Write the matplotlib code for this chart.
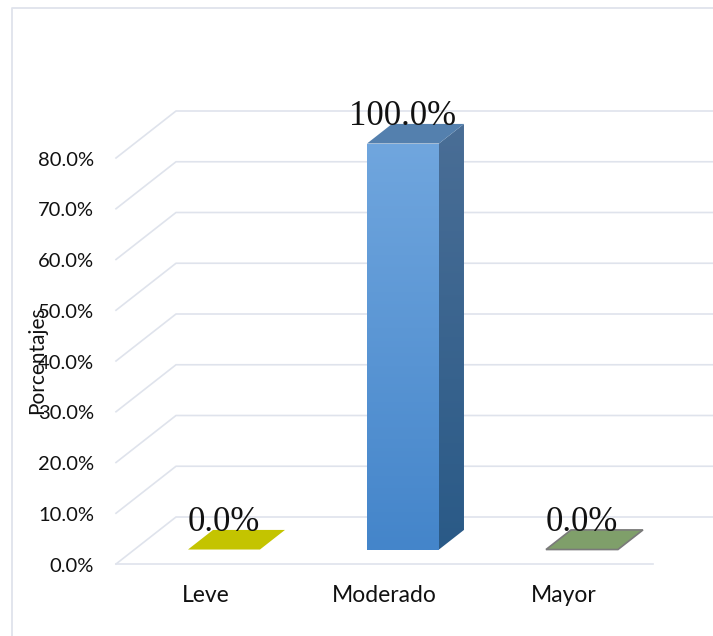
import matplotlib
matplotlib.use('Agg')
import numpy as np
import matplotlib.pyplot as plt
from matplotlib.colors import LinearSegmentedColormap
from matplotlib.patches import Polygon

categorias = ['Leve', 'Moderado', 'Mayor']
porcentajes = [0.0, 100.0, 0.0]
marcas_y = [0, 10, 20, 30, 40, 50, 60, 70, 80]
eje_max = 80

colores_frente = [('#70A6DE', '#4485CA'), ('#70A6DE', '#4485CA'), ('#7F9F6A', '#7F9F6A')]
colores_lado = [('#4A6E96', '#2A5A87'), ('#4A6E96', '#2A5A87'), ('#7F9F6A', '#7F9F6A')]
colores_tapa = ['#C4C400', '#5480AE', '#7F9F6A']
bordes_tapa = ['none', 'none', '#7A7A7A']

W, H = 713, 636
GRID = '#DFE3EC'
TEXTO = '#111111'

fig = plt.figure(figsize=(W / 100, H / 100), dpi=100, facecolor='white')

# marco exterior: solo se ven el lado izquierdo y el superior
fig.add_artist(plt.Line2D([11.5 / W, 11.5 / W, 1], [0, 1 - 8 / H, 1 - 8 / H], color=GRID, lw=1.3,
                          transform=fig.transFigure))

# ejes: el plano frontal va de x=116 a 653 y de y=564 a 158 (pixeles)
ax = fig.add_axes([116 / W, 1 - 564 / H, 537 / W, 406 / H])
ax.set_xlim(-0.5, 2.5)
ax.set_ylim(0, eje_max)
ax.axis('off')

# profundidad de la perspectiva en unidades de datos
prof_x = 60 / 179
prof_y = 47 / (406 / eje_max)
ancho = 0.402
z_ini, z_fin = 0.308, 0.725


def proy(x, y, z):
    return x + prof_x * z, y + prof_y * z


def gradiente(poly, arriba, abajo, x0, x1, y0, y1):
    cmap = LinearSegmentedColormap.from_list('g', [arriba, abajo])
    img = ax.imshow(np.linspace(0, 1, 256).reshape(-1, 1), cmap=cmap, aspect='auto',
                    extent=(x0, x1, y0, y1), zorder=3)
    # la barra sobresale del plano frontal, no se recorta con los ejes
    img.set_clip_box(fig.bbox)
    img.set_clip_path(poly)


# rejilla: pared del fondo y lineas diagonales sobre la pared lateral
for v in marcas_y:
    x0, y0 = proy(-0.5, v, 0)
    x1, y1 = proy(-0.5, v, 1)
    x2, y2 = proy(2.5, v, 1)
    ax.plot([x0, x1, x2], [y0, y1, y2], color=GRID, lw=1.2, clip_on=False, zorder=1)
ax.plot([-0.5, 2.5], [0, 0], color=GRID, lw=1.2, clip_on=False, zorder=1)

for i, v in enumerate(porcentajes):
    alto = min(v, eje_max)
    izq, der = i - ancho / 2, i + ancho / 2

    a = proy(izq, 0, z_ini)
    b = proy(der, 0, z_ini)
    c = proy(der, alto, z_ini)
    d = proy(izq, alto, z_ini)
    e = proy(der, 0, z_fin)
    f = proy(der, alto, z_fin)
    g = proy(izq, alto, z_fin)

    if alto > 0:
        frente = Polygon([a, b, c, d], closed=True, fc='none', ec='none', transform=ax.transData)
        lado = Polygon([b, e, f, c], closed=True, fc='none', ec='none', transform=ax.transData)
        gradiente(frente, *colores_frente[i], a[0], b[0], a[1], d[1])
        gradiente(lado, *colores_lado[i], b[0], e[0], b[1], f[1])

    ax.add_patch(Polygon([d, c, f, g], closed=True, fc=colores_tapa[i], ec=bordes_tapa[i],
                         lw=1.2, zorder=4, clip_on=False))

    # etiqueta de valor sobre la barra
    xt = proy(i, alto, z_ini)[0]
    yt = proy(i, alto, z_fin)[1]
    ax.annotate(f'{v:.1f}%', (xt, yt), xytext=(0, -1), textcoords='offset pixels',
                family='Liberation Serif', fontsize=25, color=TEXTO, ha='center', va='baseline',
                zorder=5, annotation_clip=False)

    ax.annotate(categorias[i], (i, 0), xytext=(0, -32), textcoords='offset pixels',
                family='Lato', fontsize=16.5, color=TEXTO, ha='center', va='center',
                annotation_clip=False)

for v in marcas_y:
    ax.annotate(f'{v:.1f}%', (-0.5, v), xytext=(-22, -2), textcoords='offset pixels',
                family='Lato', fontsize=14.5, color=TEXTO, ha='right', va='center',
                annotation_clip=False)

fig.text(37 / W, 1 - 360 / H, 'Porcentajes', family='Lato', fontsize=15, color=TEXTO,
         rotation=90, ha='center', va='center')

fig.savefig('out.png', dpi=100)
plt.close(fig)
